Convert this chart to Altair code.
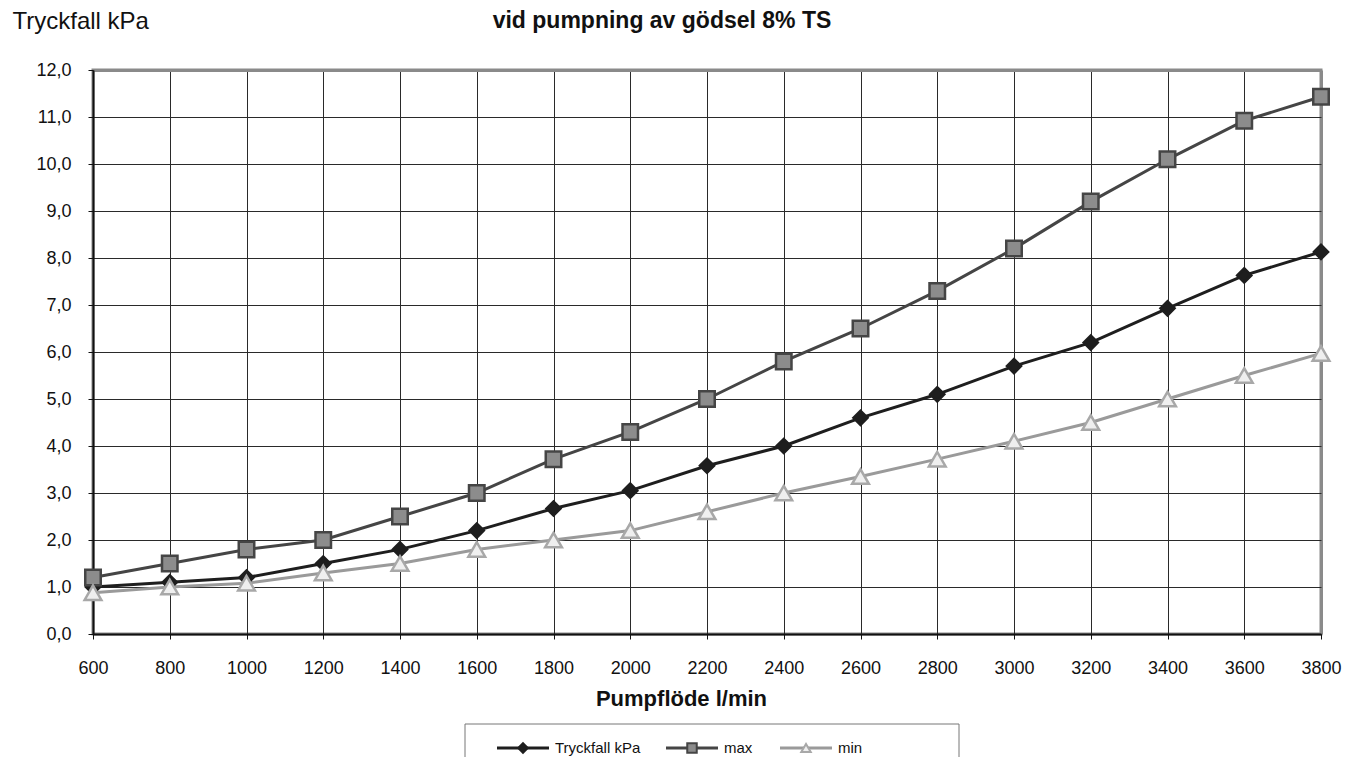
import altair as alt
import pandas as pd

flow = [600, 800, 1000, 1200, 1400, 1600, 1800, 2000, 2200, 2400, 2600, 2800, 3000, 3200, 3400, 3600, 3800]
tryckfall = [1.0, 1.1, 1.2, 1.5, 1.8, 2.2, 2.67, 3.05, 3.58, 4.0, 4.6, 5.1, 5.7, 6.2, 6.93, 7.63, 8.13]
max_vals = [1.2, 1.5, 1.8, 2.0, 2.5, 3.0, 3.72, 4.3, 5.0, 5.8, 6.5, 7.3, 8.2, 9.2, 10.1, 10.92, 11.43]
min_vals = [0.88, 1.0, 1.08, 1.3, 1.5, 1.8, 2.0, 2.2, 2.6, 3.0, 3.35, 3.72, 4.1, 4.5, 5.0, 5.5, 5.97]
series_names = ["Tryckfall kPa", "max", "min"]
x_ticks = list(range(600, 3801, 200))
y_ticks = list(range(0, 13))

rows = []
for k, (name, vals) in enumerate(zip(series_names, [tryckfall, max_vals, min_vals])):
    for f, v in zip(flow, vals):
        rows.append({"flow": f, "value": v, "series": name, "order": k})
df = pd.DataFrame(rows)

W, H = 1228, 564
FONT = "Liberation Sans"

line_colors = ["#1e1e1e", "#454545", "#9a9a9a"]
fill_colors = ["#1e1e1e", "#8c8c8c", "#efefef"]
stroke_colors = ["#1e1e1e", "#454545", "#a8a8a8"]
shapes = ["diamond", "square", "triangle-up"]
sizes = [200, 280, 230]

x_enc = alt.X(
    "flow:Q",
    scale=alt.Scale(domain=[600, 3800], nice=False, zero=False),
    axis=alt.Axis(
        values=x_ticks, grid=True, format="d", labelFlush=False, labelOverlap=False,
        gridColor={"condition": {"test": "datum.value === 3800", "value": "#8a8a8a"}, "value": "#2a2a2a"},
        gridWidth={"condition": {"test": "datum.value === 3800", "value": 3}, "value": 1},
        domainColor="#111", domainWidth=2, tickColor="#111", tickSize=5,
        labelFont=FONT, labelFontSize=18, labelColor="#111", labelPadding=20,
        title="Pumpflöde l/min", titleFont=FONT, titleFontSize=22, titleFontWeight="bold",
        titleColor="#111", titleX=588, titleY=71, titleAnchor="middle", titleAlign="center",
        titleBaseline="alphabetic",
    ),
)
y_enc = alt.Y(
    "value:Q",
    scale=alt.Scale(domain=[0, 12], nice=False),
    axis=alt.Axis(
        values=y_ticks, grid=True,
        gridColor={"condition": {"test": "datum.value === 12", "value": "#8a8a8a"}, "value": "#2a2a2a"},
        gridWidth={"condition": {"test": "datum.value === 12", "value": 3}, "value": 1},
        domainColor="#111", domainWidth=2, tickColor="#111", tickSize=5,
        labelExpr="replace(format(datum.value, '.1f'), '.', ',')",
        labelFont=FONT, labelFontSize=18, labelColor="#111", labelPadding=17,
        title="Tryckfall kPa", titleFont=FONT, titleFontSize=24, titleFontWeight="normal",
        titleColor="#111", titleAngle=0, titleX=-81, titleY=-42, titleAlign="left",
        titleBaseline="alphabetic",
    ),
)

scale_line = alt.Scale(domain=series_names, range=line_colors)

lines = alt.Chart(df).mark_line(strokeWidth=3).encode(
    x=x_enc, y=y_enc,
    color=alt.Color("series:N", scale=scale_line, legend=None),
    detail="series:N",
    order="flow:Q",
)

points = alt.Chart(df).mark_point(filled=True, strokeWidth=2.5, opacity=1).encode(
    x="flow:Q", y="value:Q",
    shape=alt.Shape("series:N", scale=alt.Scale(domain=series_names, range=shapes), legend=None),
    fill=alt.Fill("series:N", scale=alt.Scale(domain=series_names, range=fill_colors), legend=None),
    stroke=alt.Stroke("series:N", scale=alt.Scale(domain=series_names, range=stroke_colors), legend=None),
    size=alt.Size("series:N", scale=alt.Scale(domain=series_names, range=sizes), legend=None),
    order=alt.Order("order:Q"),
)

title = alt.Chart(pd.DataFrame({"t": ["vid pumpning av gödsel 8% TS"]})).mark_text(
    font=FONT, fontSize=23, fontWeight="bold", color="#111", align="center", baseline="middle"
).encode(x=alt.value(569), y=alt.value(-49), text="t:N")

# Legend (manual, Excel-style box below the chart)
box = alt.Chart(pd.DataFrame({"a": [0]})).mark_rect(
    fill="white", stroke="#777", strokeWidth=1
).encode(x=alt.value(372), x2=alt.value(866), y=alt.value(654), y2=alt.value(720))

leg_x = [404, 573, 687]
leg_rows = []
for i, name in enumerate(series_names):
    leg_rows.append({"series": name, "x0": leg_x[i], "x1": leg_x[i] + 52, "xm": leg_x[i] + 26,
                     "xt": leg_x[i] + 58, "y": 678})
ldf = pd.DataFrame(leg_rows)

leg_lines = alt.Chart(ldf).mark_rule(strokeWidth=3).encode(
    x=alt.X("x0:Q", scale=None), x2="x1:Q", y=alt.Y("y:Q", scale=None),
    color=alt.Color("series:N", scale=scale_line, legend=None),
)
leg_points = alt.Chart(ldf).mark_point(filled=True, strokeWidth=2, opacity=1).encode(
    x=alt.X("xm:Q", scale=None), y=alt.Y("y:Q", scale=None),
    shape=alt.Shape("series:N", scale=alt.Scale(domain=series_names, range=shapes), legend=None),
    fill=alt.Fill("series:N", scale=alt.Scale(domain=series_names, range=fill_colors), legend=None),
    stroke=alt.Stroke("series:N", scale=alt.Scale(domain=series_names, range=stroke_colors), legend=None),
    size=alt.value(90),
)
leg_text = alt.Chart(ldf).mark_text(
    font=FONT, fontSize=15, color="#111", align="left", baseline="middle"
).encode(x=alt.X("xt:Q", scale=None), y=alt.Y("y:Q", scale=None), text="series:N")

chart = alt.layer(lines, points, title, box, leg_lines, leg_points, leg_text).properties(
    width=W, height=H,
    autosize=alt.AutoSizeParams(type="none"),
    padding={"left": 85, "top": 62, "right": 26, "bottom": 123},
    background="white",
).configure_view(stroke="#8a8a8a", strokeWidth=3)

chart.save("out.html", embed_options={"renderer": "svg", "actions": False})
